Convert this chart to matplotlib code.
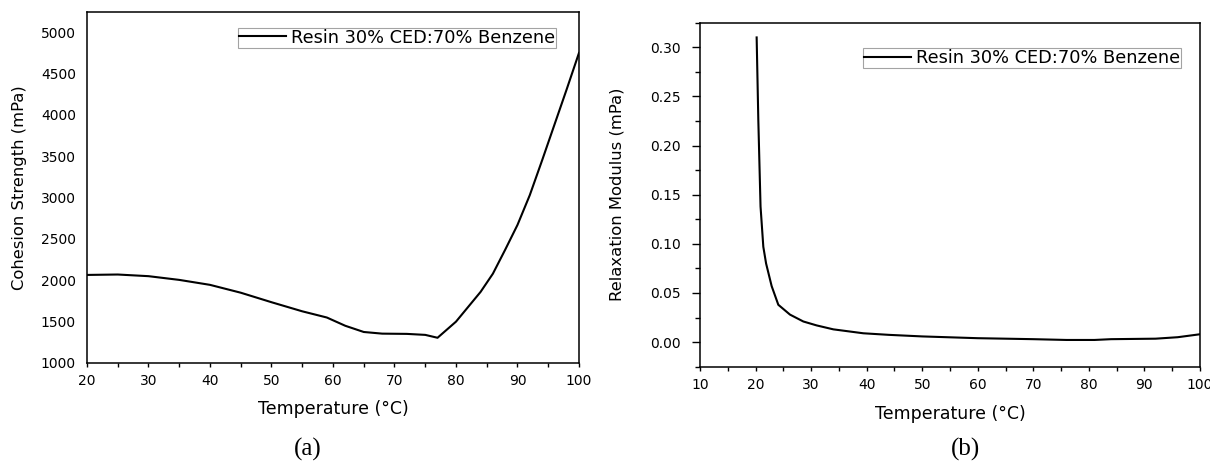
import numpy as np
import matplotlib
matplotlib.use('Agg')
import matplotlib.pyplot as plt
from matplotlib.ticker import MultipleLocator

plt.rcParams['font.family'] = ['DejaVu Sans']

# (a) cohesion strength
temp_a = [20, 25, 30, 35, 40, 45, 50, 55, 59, 62, 65, 68, 72, 75, 77,
          80, 82, 84, 86, 88, 90, 92, 94, 96, 98, 100]
cohesion = [2065, 2070, 2050, 2005, 1945, 1850, 1735, 1625, 1550, 1450, 1375, 1355, 1352, 1340, 1305,
            1500, 1680, 1860, 2080, 2370, 2670, 3030, 3450, 3880, 4310, 4750]

# (b) relaxation modulus
temp_b = [20.2, 20.5, 20.9, 21.4, 21.9, 22.9, 24.1, 26.2, 28.6, 31, 34, 39.4, 44, 50,
          60, 70, 76, 81, 84, 92, 96, 100]
modulus = [0.310, 0.226, 0.138, 0.097, 0.080, 0.057, 0.038, 0.028, 0.021, 0.017, 0.013, 0.009, 0.0074, 0.0058,
           0.004, 0.003, 0.0022, 0.0022, 0.003, 0.0035, 0.005, 0.008]

label = 'Resin 30% CED:70% Benzene'

fig = plt.figure(figsize=(12.1, 4.63), dpi=100)
ax1 = fig.add_axes([0.0719, 0.216, 0.4066, 0.759])
ax2 = fig.add_axes([0.5785, 0.208, 0.4132, 0.743])


def common(ax, xlab_y):
    for s in ax.spines.values():
        s.set_linewidth(1.1)
    ax.tick_params(which='both', direction='out', top=False, right=False, labelsize=10)
    ax.tick_params(axis='x', which='both', length=3, width=1, pad=5)
    ax.xaxis.set_major_locator(MultipleLocator(10))
    ax.xaxis.set_minor_locator(MultipleLocator(5))
    ax.set_xlabel('Temperature (°C)', fontsize=12.5)
    ax.xaxis.set_label_coords(0.5, xlab_y)


def add_legend(ax, anchor):
    leg = ax.legend(loc='upper right', bbox_to_anchor=anchor, fontsize=12.8, frameon=True,
                    fancybox=False, handlelength=2.6, borderpad=0.05, handletextpad=0.3,
                    borderaxespad=0)
    leg.get_frame().set_edgecolor('#8c8c8c')
    leg.get_frame().set_linewidth(0.8)


# (a)
ax1.plot(temp_a, cohesion, color='black', lw=1.5, label=label)
ax1.set_xlim(20, 100)
ax1.set_ylim(1000, 5250)
ax1.yaxis.set_major_locator(MultipleLocator(500))
common(ax1, -0.105)
ax1.tick_params(axis='y', which='both', length=0, pad=8)
ax1.set_ylabel('Cohesion Strength (mPa)', fontsize=11.8)
ax1.yaxis.set_label_coords(-0.122, 0.5)
add_legend(ax1, (0.953, 0.954))

# (b)
ax2.plot(temp_b, modulus, color='black', lw=1.5, label=label)
ax2.set_xlim(10, 100)
ax2.set_ylim(-0.025, 0.325)
ax2.yaxis.set_major_locator(MultipleLocator(0.05))
ax2.yaxis.set_minor_locator(MultipleLocator(0.025))
ax2.yaxis.set_major_formatter(plt.FormatStrFormatter('%.2f'))
common(ax2, -0.11)
ax2.tick_params(axis='y', which='major', length=6, width=1, pad=8)
ax2.tick_params(axis='y', which='minor', length=3.5, width=1)
ax2.set_ylabel('Relaxation Modulus (mPa)', fontsize=11.8)
ax2.yaxis.set_label_coords(-0.15, 0.5)
add_legend(ax2, (0.962, 0.926))

fig.text(308 / 1210, 1 - 449 / 463, '(a)', family='Liberation Serif', fontsize=18, ha='center', va='center')
fig.text(966 / 1210, 1 - 449 / 463, '(b)', family='Liberation Serif', fontsize=18, ha='center', va='center')

fig.savefig('out.png', dpi=100)
